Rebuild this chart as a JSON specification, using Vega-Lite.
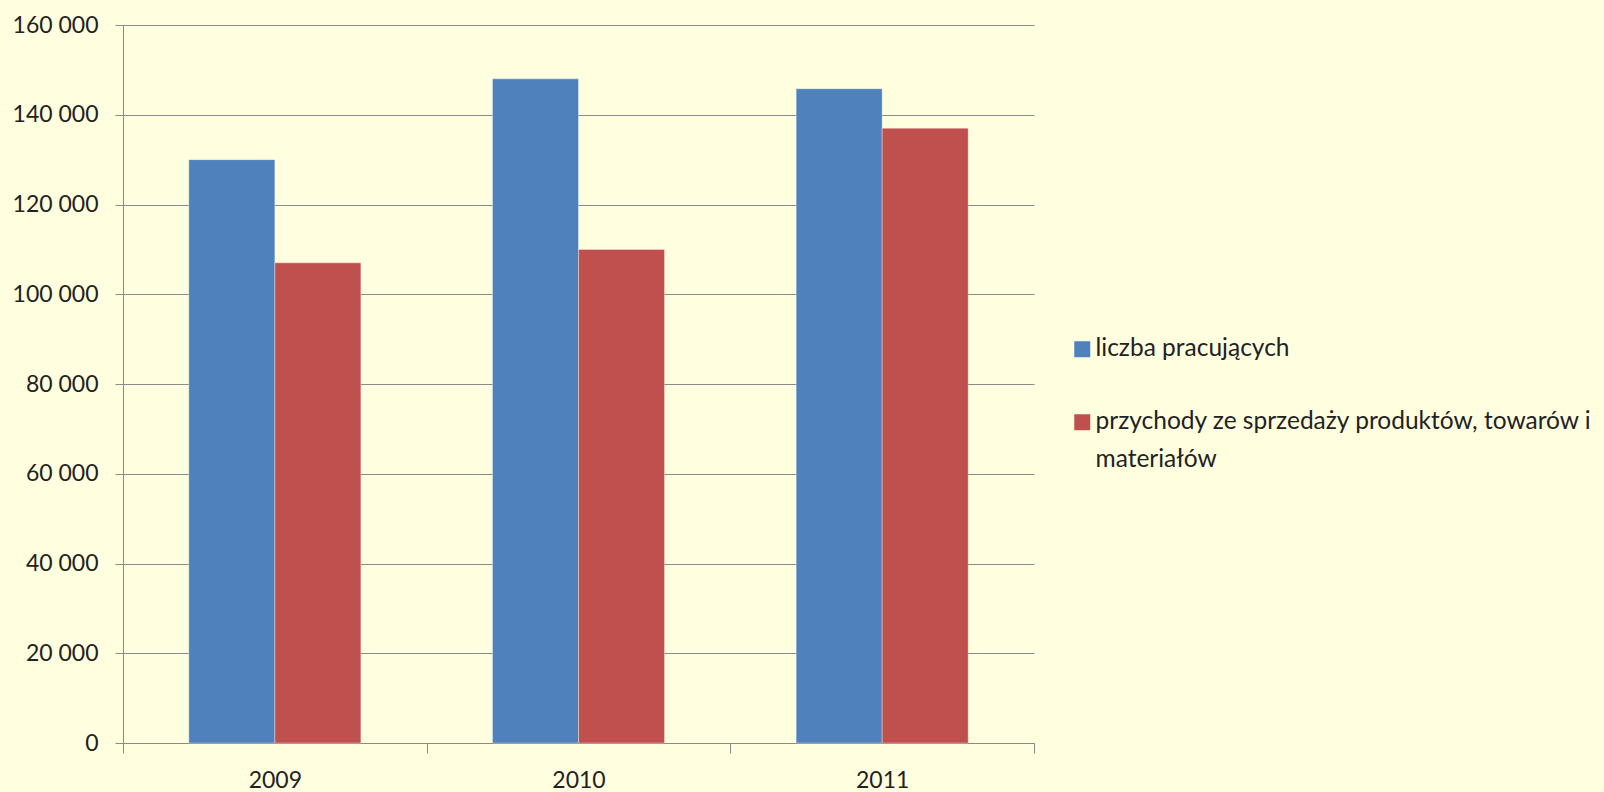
{
  "$schema": "https://vega.github.io/schema/vega-lite/v6.json",
  "autosize": "none",
  "width": 911,
  "height": 718,
  "padding": {"left": 123, "top": 25, "right": 570, "bottom": 49},
  "background": "#FFFFE0",
  "data": {
    "values": [
      {"rok": "2009", "seria": "liczba pracujących", "wartosc": 130000},
      {"rok": "2009", "seria": "przychody ze sprzedaży produktów, towarów i materiałów", "wartosc": 107000},
      {"rok": "2010", "seria": "liczba pracujących", "wartosc": 148000},
      {"rok": "2010", "seria": "przychody ze sprzedaży produktów, towarów i materiałów", "wartosc": 110000},
      {"rok": "2011", "seria": "liczba pracujących", "wartosc": 145800},
      {"rok": "2011", "seria": "przychody ze sprzedaży produktów, towarów i materiałów", "wartosc": 137000}
    ]
  },
  "mark": {"type": "bar", "stroke": "#ffffff", "strokeOpacity": 0.35, "strokeWidth": 1},
  "encoding": {
    "x": {
      "field": "rok", "type": "nominal",
      "scale": {"paddingInner": 0, "paddingOuter": 0},
      "axis": {
        "title": null, "labelAngle": 0, "tickBand": "extent",
        "domainColor": "#8a8a8a", "tickColor": "#8a8a8a", "tickSize": 10,
        "labelFont": "Lato", "labelFontSize": 23, "labelColor": "#222222",
        "labelPadding": 9, "grid": false
      }
    },
    "xOffset": {
      "field": "seria", "type": "nominal",
      "scale": {"domain": ["liczba pracujących", "przychody ze sprzedaży produktów, towarów i materiałów"], "paddingInner": 0, "paddingOuter": 0.765}
    },
    "y": {
      "field": "wartosc", "type": "quantitative",
      "scale": {"domain": [0, 160000], "nice": false},
      "axis": {
        "title": null, "values": [0, 20000, 40000, 60000, 80000, 100000, 120000, 140000, 160000],
        "labelExpr": "replace(format(datum.value, ','), ',', ' ')",
        "domainColor": "#8a8a8a", "tickColor": "#8a8a8a", "tickSize": 8,
        "gridColor": "#8a8a8a", "gridWidth": 1,
        "labelFont": "Lato", "labelFontSize": 23, "labelColor": "#222222",
        "labelPadding": 17, "labelOffset": -7
      }
    },
    "color": {
      "field": "seria", "type": "nominal",
      "scale": {"domain": ["liczba pracujących", "przychody ze sprzedaży produktów, towarów i materiałów"], "range": ["#4F81BD", "#C0504D"]},
      "legend": {
        "title": null, "orient": "none", "legendX": 947, "legendY": 312,
        "padding": 0, "symbolType": "square", "symbolSize": 256, "symbolStrokeWidth": 0,
        "labelFont": "Lato", "labelFontSize": 24.5, "labelColor": "#222222",
        "labelOffset": 1, "labelLimit": 600, "rowPadding": 48,
        "labelBaseline": "alphabetic",
        "labelExpr": "datum.label == 'liczba pracujących' ? datum.label : ['przychody ze sprzedaży produktów, towarów i', 'materiałów']"
      }
    }
  },
  "config": {
    "view": {"stroke": null},
    "style": {"guide-label": {"dy": 7, "lineHeight": 38}}
  }
}
